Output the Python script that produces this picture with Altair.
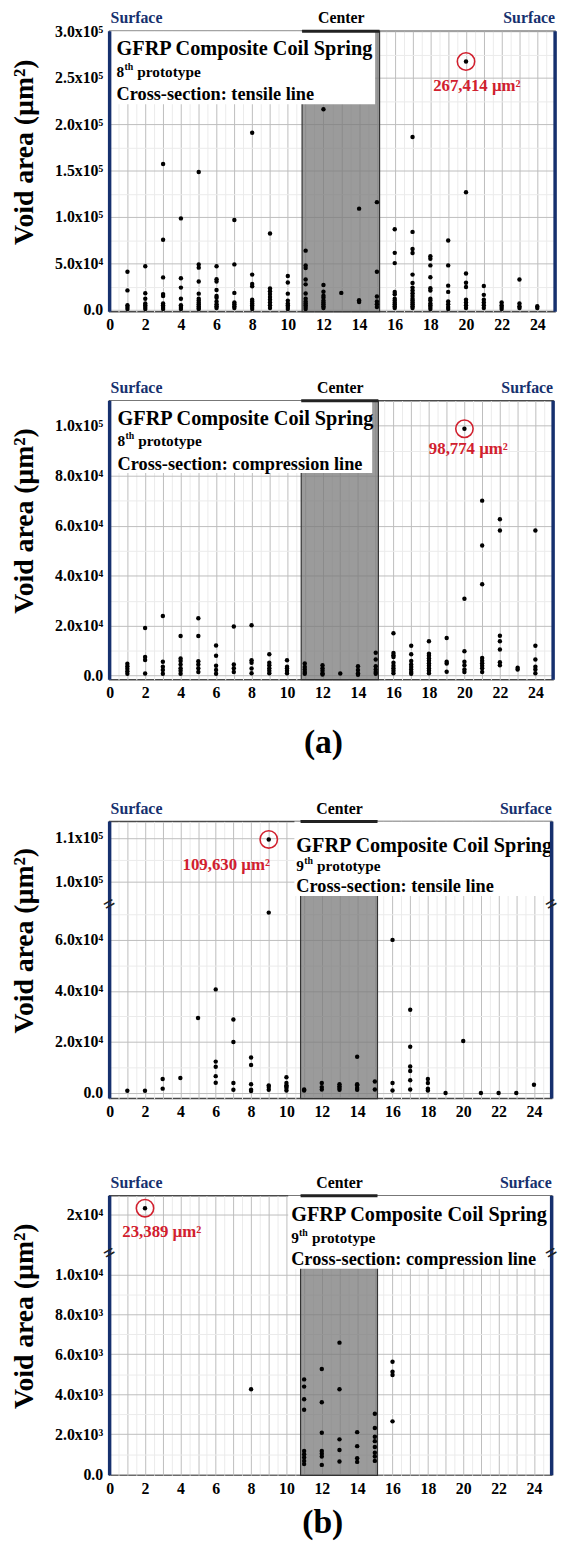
import altair as alt
import pandas as pd

# ---------------- data (void areas in µm², read column by column) ----------------
POSITIONS = list(range(1, 25))

P1_AREAS = [
    [41000, 21000, 5000, 3000, 1000],
    [47000, 18000, 12000, 7000, 5000, 3000, 1000],
    [157000, 75500, 35000, 17000, 15000, 7000, 5000, 3000, 1000],
    [98500, 34000, 24000, 12000, 5000, 3000, 1000],
    [148500, 49000, 45500, 30500, 17500, 12000, 10000, 8000, 6000, 4000, 2000, 1000],
    [47000, 33000, 30500, 21500, 15000, 13000, 9000, 6000, 4000, 2000],
    [96700, 49000, 18300, 8000, 6000, 4000, 2000],
    [190800, 38000, 28000, 25500, 11000, 9000, 7000, 5000, 3000, 1000],
    [82200, 23000, 20000, 17000, 14000, 11000, 8000, 5000, 2000],
    [36500, 29500, 17500, 10000, 7000, 5000, 3000, 1000],
    [63800, 47900, 45200, 32800, 27500, 17600, 12000, 9000, 7000, 5000, 3000, 1000],
    [216000, 26800, 19500, 15200, 13000, 10000, 8000, 6000, 4000, 2000],
    [18300],
    [109000, 10500, 8500],
    [116000, 41000, 14500, 9000, 6000, 3000],
    [86800, 61400, 50400, 19400, 16800, 12000, 10000, 8000, 6000, 4000, 2000],
    [186200, 84000, 65600, 61200, 38000, 29000, 24000, 21000, 18000, 15000, 12000, 10000, 8000, 6000, 4000, 2000],
    [57800, 55000, 47900, 35200, 23300, 20800, 12000, 10000, 7000, 5000, 3000, 1000],
    [74800, 47900, 26100, 19400, 9000, 6000, 3000, 1000],
    [267414, 126600, 39200, 29300, 24700, 11000, 8000, 5000, 2000],
    [25700, 16200, 11000, 8000, 5000, 2000],
    [8000, 5000, 3000, 1000],
    [32800, 7000, 4000, 2000],
    [4000, 2000],
]

P2_AREAS = [
    [4800, 3800, 2800, 1800, 800],
    [19100, 7500, 6300, 900],
    [23900, 5600, 3600, 2300, 800],
    [15900, 6900, 5900, 4500, 3000, 2000, 800],
    [23000, 15900, 5800, 4500, 3000, 1500],
    [12100, 8000, 4000, 2300, 800],
    [19700, 4500, 3000, 1500],
    [20200, 6200, 5200, 2900, 1000],
    [8600, 5200, 4200, 3000, 2000, 1000],
    [6200, 3600, 3000, 2000, 1000],
    [4900, 3500, 2500, 1500, 800],
    [4200, 3000, 2000, 1000, 500],
    [900],
    [3800, 2300, 1000, 400],
    [9200, 6500, 3800, 2500, 1500, 800],
    [17000, 9100, 8200, 7500, 5200, 4000, 3000, 2000, 1000],
    [12000, 8600, 5900, 4500, 3500, 2500, 1500, 800],
    [13800, 8800, 8000, 7000, 6000, 5000, 4000, 3000, 2000, 1000],
    [15100, 5600, 4900, 1600],
    [98774, 30800, 9800, 5600, 4200, 2500, 1500],
    [70000, 52100, 36600, 7100, 6000, 5000, 4000, 3000, 1500],
    [62600, 58100, 16000, 13800, 10500, 5400, 4200],
    [3200, 2500],
    [58100, 12000, 6500, 3600, 2500, 1000],
]

P3_AREAS = [
    [900], [900], [5500, 1700], [5900], [29400],
    [40600, 12300, 10300, 6600, 4000],
    [28800, 20000, 3900, 1300],
    [13900, 11000, 3400, 1300, 800],
    [109630, 70700, 3000, 2300, 1300],
    [6200, 3900, 3000, 2500, 2000, 1000],
    [1400, 1000],
    [3900, 2300, 1400],
    [3400, 2600, 2000, 1300],
    [14200, 3400, 3000, 2000, 1300],
    [4500, 1400],
    [60000, 3900, 1000],
    [32600, 18100, 10400, 8600, 5000, 1400],
    [5500, 3900, 1700, 1000],
    [0], [20400], [0], [0], [0], [3200],
]

P4_POSITIONS = [2, 8, 11, 12, 13, 14, 15, 16]
P4_AREAS = [
    [23389],
    [4250],
    [4740, 4380, 3750, 3220, 1160, 990, 830, 660, 500],
    [5260, 3600, 2070, 1160, 1020, 880, 460],
    [6580, 4250, 1740, 1210, 630],
    [2100, 1400, 790, 610],
    [3020, 2310, 1870, 1650, 1360, 1070, 880, 660],
    [5620, 5120, 4960, 2640],
]

# highlighted maxima: position, area, label
P1_PEAK = [20, 267414, "267,414 µm²"]
P2_PEAK = [20, 98774, "98,774 µm²"]
P3_PEAK = [9, 109630, "109,630 µm²"]
P4_PEAK = [2, 23389, "23,389 µm²"]

# y-axis ticks
P1_Y_MAJOR = [0, 50000, 100000, 150000, 200000, 250000, 300000]
P1_Y_LABELS = ["0.0", "5.0x10⁴", "1.0x10⁵", "1.5x10⁵", "2.0x10⁵", "2.5x10⁵", "3.0x10⁵"]
P1_Y_MINOR = [25000, 75000, 125000, 175000, 225000, 275000]

P2_Y_MAJOR = [0, 20000, 40000, 60000, 80000, 100000]
P2_Y_LABELS = ["0.0", "2.0x10⁴", "4.0x10⁴", "6.0x10⁴", "8.0x10⁴", "1.0x10⁵"]
P2_Y_MINOR = [10000, 30000, 50000, 70000, 90000]

P3_Y_MAJOR = [0, 20000, 40000, 60000, 100000, 110000]
P3_Y_LABELS = ["0.0", "2.0x10⁴", "4.0x10⁴", "6.0x10⁴", "1.0x10⁵", "1.1x10⁵"]
P3_Y_MINOR = [10000, 30000, 50000, 70000, 105000]

P4_Y_MAJOR = [0, 2000, 4000, 6000, 8000, 10000, 20000]
P4_Y_LABELS = ["0.0", "2.0x10³", "4.0x10³", "6.0x10³", "8.0x10³", "1.0x10⁴", "2x10⁴"]
P4_Y_MINOR = [1000, 3000, 5000, 7000, 9000]

TITLE_TEXT = "GFRP Composite Coil Spring"
ORDINALS = ["8", "8", "9", "9"]
SECTIONS = ["Cross-section: tensile line", "Cross-section: compression line",
            "Cross-section: tensile line", "Cross-section: compression line"]
TOP_LABELS = ["Surface", "Center", "Surface"]
PANEL_LETTERS = ["(a)", "(b)"]

# ---------------- styling ----------------
SERIF = "Liberation Serif"
NAVY = "#16306e"
RED = "#d1202e"
CENTER_LO, CENTER_HI = 10.8, 15.15
X_MAX = 25
ONE = pd.DataFrame({"k": [0]})


def make_df(pos, areas):
    rows = [(p, a) for p, col in zip(pos, areas) for a in col]
    return pd.DataFrame(rows, columns=["pos", "area"])


def ternary(vals, labels):
    s = ""
    for v, l in zip(vals, labels):
        s += f"datum.value == {v} ? '{l}' : "
    return s + "''"


def txt(text, x, y, size, color="black", align="left", dx=0, dy=0, angle=0, ydatum=False):
    props = dict(text=text, font=SERIF, fontWeight="bold", fontSize=size, color=color,
                 align=align, baseline="middle", dx=dx, dy=dy)
    if angle:
        props["angle"] = angle
    yenc = alt.datum(y) if ydatum else alt.value(y)
    return alt.Chart(ONE).mark_text(**props).encode(x=alt.datum(x), y=yenc)


def panel(df, W, H, yscale, y_major, y_labels, y_minor, box, text_x, text_dx, line_y,
          ordinal, section, peak, lab_off, brk=None, letter=None, letter_y=0):
    xs = alt.Scale(domain=[0, X_MAX], nice=False, zero=False)
    x_axis = alt.Axis(
        values=[i / 2 for i in range(0, 2 * X_MAX + 1)], tickCount=200,
        labelExpr="datum.value % 2 == 0 ? '' + datum.value : ''",
        grid=True,
        gridColor={"condition": {"test": "datum.value % 1 == 0", "value": "#bdbdbd"},
                   "value": "#ebebeb"},
        gridWidth=1, ticks=False, domain=False,
        labelFont=SERIF, labelFontWeight="bold", labelFontSize=16, labelColor="black",
        labelPadding=5, labelOverlap=False, labelFlush=False, title=None)
    y_axis = alt.Axis(
        values=sorted(y_major + y_minor), tickCount=200, labelExpr=ternary(y_major, y_labels),
        grid=True,
        gridColor={"condition": {"test": f"indexof({y_major}, datum.value) >= 0", "value": "#bdbdbd"},
                   "value": "#ebebeb"},
        ticks=False, domain=False, labelFont=SERIF, labelFontWeight="bold", labelFontSize=16,
        labelColor="black", labelPadding=7, labelOverlap=False, labelFlush=False,
        title="Void area (µm²)", titleFont=SERIF, titleFontWeight="bold", titleFontSize=28,
        titleColor="black", titleX=-86, titleY=H / 2 - 20, titleBaseline="middle", titleAngle=270)

    gray = alt.Chart(ONE).mark_rect(fill="#7a7a7a", fillOpacity=0.75, stroke="#333",
                                    strokeWidth=1.2).encode(
        x=alt.datum(CENTER_LO), x2=alt.datum(CENTER_HI), y=alt.value(0), y2=alt.value(H))
    pts = alt.Chart(df).mark_circle(size=20, color="black", opacity=1).encode(
        x=alt.X("pos:Q", scale=xs, axis=x_axis),
        y=alt.Y("area:Q", scale=yscale, axis=y_axis))
    boxr = alt.Chart(ONE).mark_rect(fill="white").encode(
        x=alt.datum(box[0]), x2=alt.datum(box[1]), y=alt.value(0), y2=alt.value(box[2]))
    texts = [
        txt(TITLE_TEXT, text_x, line_y[0], 20.5, dx=text_dx),
        txt(ordinal, text_x, line_y[1], 15.5, dx=text_dx),
        txt("th", text_x, line_y[1], 10, dx=text_dx + 8, dy=-5),
        txt("prototype", text_x, line_y[1], 15.5, dx=text_dx + 21),
        txt(section, text_x, line_y[2], 18.5, dx=text_dx),
    ]
    ring = alt.Chart(ONE).mark_point(shape="circle", size=310, filled=False, color=RED,
                                     strokeWidth=1.6, opacity=1).encode(
        x=alt.datum(peak[0]), y=alt.datum(peak[1]))
    plabel = txt(peak[2], peak[0], peak[1], 17, color=RED, align="center",
                 dx=lab_off[0], dy=lab_off[1], ydatum=True)
    bracket = alt.Chart(ONE).mark_rule(color="#222", strokeWidth=3).encode(
        x=alt.datum(CENTER_LO), x2=alt.datum(CENTER_HI), y=alt.value(0))
    lborder = alt.Chart(ONE).mark_rule(color=NAVY, strokeWidth=3.5).encode(
        x=alt.datum(0), y=alt.value(0), y2=alt.value(H))
    rborder = alt.Chart(ONE).mark_rule(color=NAVY, strokeWidth=3.5).encode(
        x=alt.datum(X_MAX), y=alt.value(0), y2=alt.value(H))
    tops = [
        txt(TOP_LABELS[0], 0, -13, 16, color=NAVY, align="left", dx=1),
        txt(TOP_LABELS[1], 13, -13, 16, align="center"),
        txt(TOP_LABELS[2], X_MAX, -13, 16, color=NAVY, align="right"),
    ]
    layers = [gray, pts, boxr] + texts + [ring, plabel, bracket, lborder, rborder] + tops
    if brk is not None:
        layers += [txt("=", 0, brk, 21, color="#222", align="center", angle=330, ydatum=True),
                   txt("=", X_MAX, brk, 21, color="#222", align="center", angle=330, ydatum=True)]
    if letter:
        layers.append(txt(letter, X_MAX / 2, H + letter_y, 34, align="center", dx=-8))
    return alt.layer(*layers).properties(width=W, height=H)


H1, H2, H3, H4 = 284, 282.5, 280.6, 283

p1 = panel(make_df(POSITIONS, P1_AREAS), 451, H1,
           alt.Scale(domain=[-2000, 300000], nice=False, zero=False),
           P1_Y_MAJOR, P1_Y_LABELS, P1_Y_MINOR, (0, 14.9, 74), 0, 7, [17.7, 41.5, 63.5],
           ORDINALS[0], SECTIONS[0], P1_PEAK, (11, 25))

p2 = panel(make_df(POSITIONS, P2_AREAS), 449, H2,
           alt.Scale(domain=[-1600, 110000], nice=False, zero=False),
           P2_Y_MAJOR, P2_Y_LABELS, P2_Y_MINOR, (0, 14.8, 73.3), 0, 8, [19, 41, 64],
           ORDINALS[1], SECTIONS[1], P2_PEAK, (4, 21), letter=PANEL_LETTERS[0], letter_y=64.5)

p3 = panel(make_df(POSITIONS, P3_AREAS), 447.5, H3,
           alt.Scale(domain=[-2190, 73800, 94630, 113770], range=[H3, 84.3, 84.3, 0],
                     nice=False, zero=False),
           P3_Y_MAJOR, P3_Y_LABELS, P3_Y_MINOR, (10.45, X_MAX, 75.6), 10.45, 2, [24.5, 45, 65.5],
           ORDINALS[2], SECTIONS[2], P3_PEAK, (-43, 26), brk=84000)

p4 = panel(make_df(P4_POSITIONS, P4_AREAS), 447.5, H4,
           alt.Scale(domain=[-60, 11050, 18500, 20000, 23389, 26000],
                     range=[H4, 58.3, 58.3, 19, 12.6, 0], nice=False, zero=False),
           P4_Y_MAJOR, P4_Y_LABELS, P4_Y_MINOR, (10.1, X_MAX, 74), 10.1, 3, [19.5, 42.5, 64.5],
           ORDINALS[3], SECTIONS[3], P4_PEAK, (17, 24), brk=15000,
           letter=PANEL_LETTERS[1], letter_y=48)

chart = alt.vconcat(
    alt.vconcat(p1, p2, spacing=46),
    alt.vconcat(p3, p4, spacing=54),
    spacing=39,
).properties(
    padding={"left": 10, "top": 0, "right": 0, "bottom": 0},
    background="white",
).configure_view(stroke="#4a4a4a", strokeWidth=1.5)

chart.save("out.html", embed_options={"renderer": "svg", "actions": False})
